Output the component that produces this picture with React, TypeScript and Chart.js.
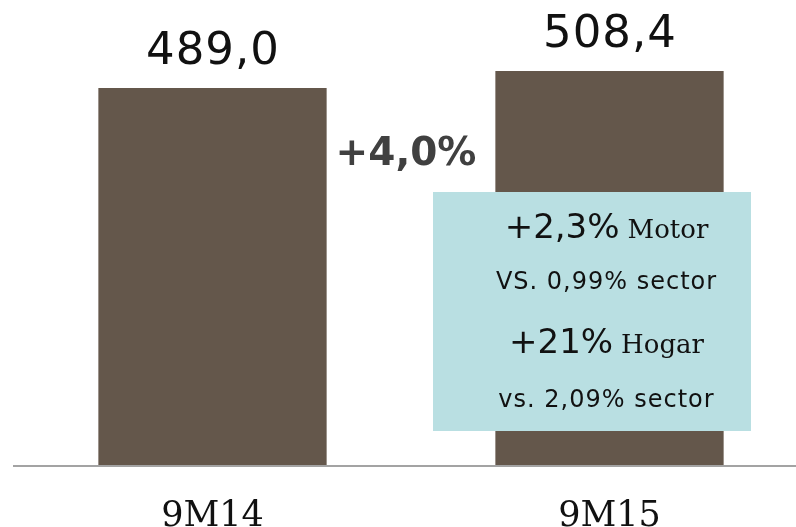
import React, { useEffect, useRef } from "react";
import { Chart, registerables } from "chart.js";

Chart.register(...registerables);

const categories = ["9M14", "9M15"];
const values = [489.0, 508.4];
const valueLabels = ["489,0", "508,4"];
const growthLabel = "+4,0%";
const boxLines = [
  { big: "+2,3%", small: "Motor" },
  { text: "VS. 0,99% sector" },
  { big: "+21%", small: "Hogar" },
  { text: "vs. 2,09% sector" },
];

const BAR_COLOR = "#64574b";
const BOX_COLOR = "#b9dfe2";

const overlay = {
  id: "overlay",
  afterDatasetsDraw(chart: any) {
    const ctx = chart.ctx;
    const area = chart.chartArea;
    const xs = chart.scales.x;
    const meta = chart.getDatasetMeta(0);
    ctx.save();
    // axis line
    ctx.strokeStyle = "#a3a3a3";
    ctx.lineWidth = 2;
    ctx.beginPath();
    ctx.moveTo(area.left - 1, area.bottom);
    ctx.lineTo(area.right, area.bottom);
    ctx.stroke();

    // value labels
    ctx.fillStyle = "#111111";
    ctx.textAlign = "center";
    ctx.textBaseline = "alphabetic";
    ctx.font = "45px 'DejaVu Sans'";
    (ctx as any).letterSpacing = "1px";
    meta.data.forEach((bar: any, i: number) => {
      ctx.fillText(valueLabels[i], bar.x + 0.5, bar.y - 24);
    });
    (ctx as any).letterSpacing = "0px";

    // category labels
    ctx.font = "35px 'DejaVu Serif'";
    categories.forEach((c, i) => {
      ctx.fillText(c, xs.getPixelForValue(i), area.bottom + 60);
    });

    // growth label
    const b0 = meta.data[0];
    const b1 = meta.data[1];
    const midX = (b0.x + b0.width / 2 + b1.x - b1.width / 2) / 2 - 5;
    ctx.fillStyle = "#404040";
    ctx.font = "bold 39px 'DejaVu Sans'";
    ctx.fillText(growthLabel, midX, 165);

    // info box
    const boxLeft = 433;
    const boxTop = 192;
    const boxRight = 751;
    const boxBottom = 431;
    ctx.fillStyle = BOX_COLOR;
    ctx.fillRect(boxLeft, boxTop, boxRight - boxLeft, boxBottom - boxTop);

    const cx = b1.x - 3;
    const baselines = [238, 289, 353, 407];
    ctx.fillStyle = "#111111";
    boxLines.forEach((ln: any, i: number) => {
      const y = baselines[i];
      if (ln.big) {
        ctx.font = "34px 'DejaVu Sans'";
        const wBig = ctx.measureText(ln.big).width;
        ctx.font = "26px 'DejaVu Serif'";
        const wSmall = ctx.measureText(ln.small).width;
        const gap = 8;
        const total = wBig + gap + wSmall;
        const x = cx - total / 2;
        ctx.textAlign = "left";
        ctx.font = "34px 'DejaVu Sans'";
        ctx.fillText(ln.big, x, y);
        ctx.font = "26px 'DejaVu Serif'";
        ctx.fillText(ln.small, x + wBig + gap, y);
      } else {
        ctx.textAlign = "center";
        ctx.font = "24px 'DejaVu Sans'";
        (ctx as any).letterSpacing = "1px";
        ctx.fillText(ln.text, cx, y);
        (ctx as any).letterSpacing = "0px";
      }
    });
    ctx.restore();
  },
};

export default function App() {
  const ref = useRef<HTMLCanvasElement | null>(null);
  useEffect(() => {
    if (!ref.current) return;
    const chart = new Chart(ref.current, {
      type: "bar",
      data: {
        labels: categories,
        datasets: [
          {
            data: values,
            backgroundColor: BAR_COLOR,
            borderWidth: 0,
            categoryPercentage: 1,
            barPercentage: 0.575,
          },
        ],
      },
      options: {
        responsive: false,
        animation: false,
        layout: { padding: { left: 14, right: 0, top: 0, bottom: 61 } },
        plugins: {
          legend: { display: false },
          tooltip: { enabled: false },
        },
        scales: {
          x: { display: false },
          y: { display: false, min: 60, max: 589 },
        },
      },
      plugins: [overlay],
    });
    return () => chart.destroy();
  }, []);
  return (
    <div
      style={{
        position: "absolute",
        left: 0,
        top: 0,
        width: 796,
        height: 527,
        overflow: "hidden",
        background: "#ffffff",
      }}
    >
      <canvas ref={ref} width={808} height={527} style={{ width: 808, height: 527 }} />
    </div>
  );
}
